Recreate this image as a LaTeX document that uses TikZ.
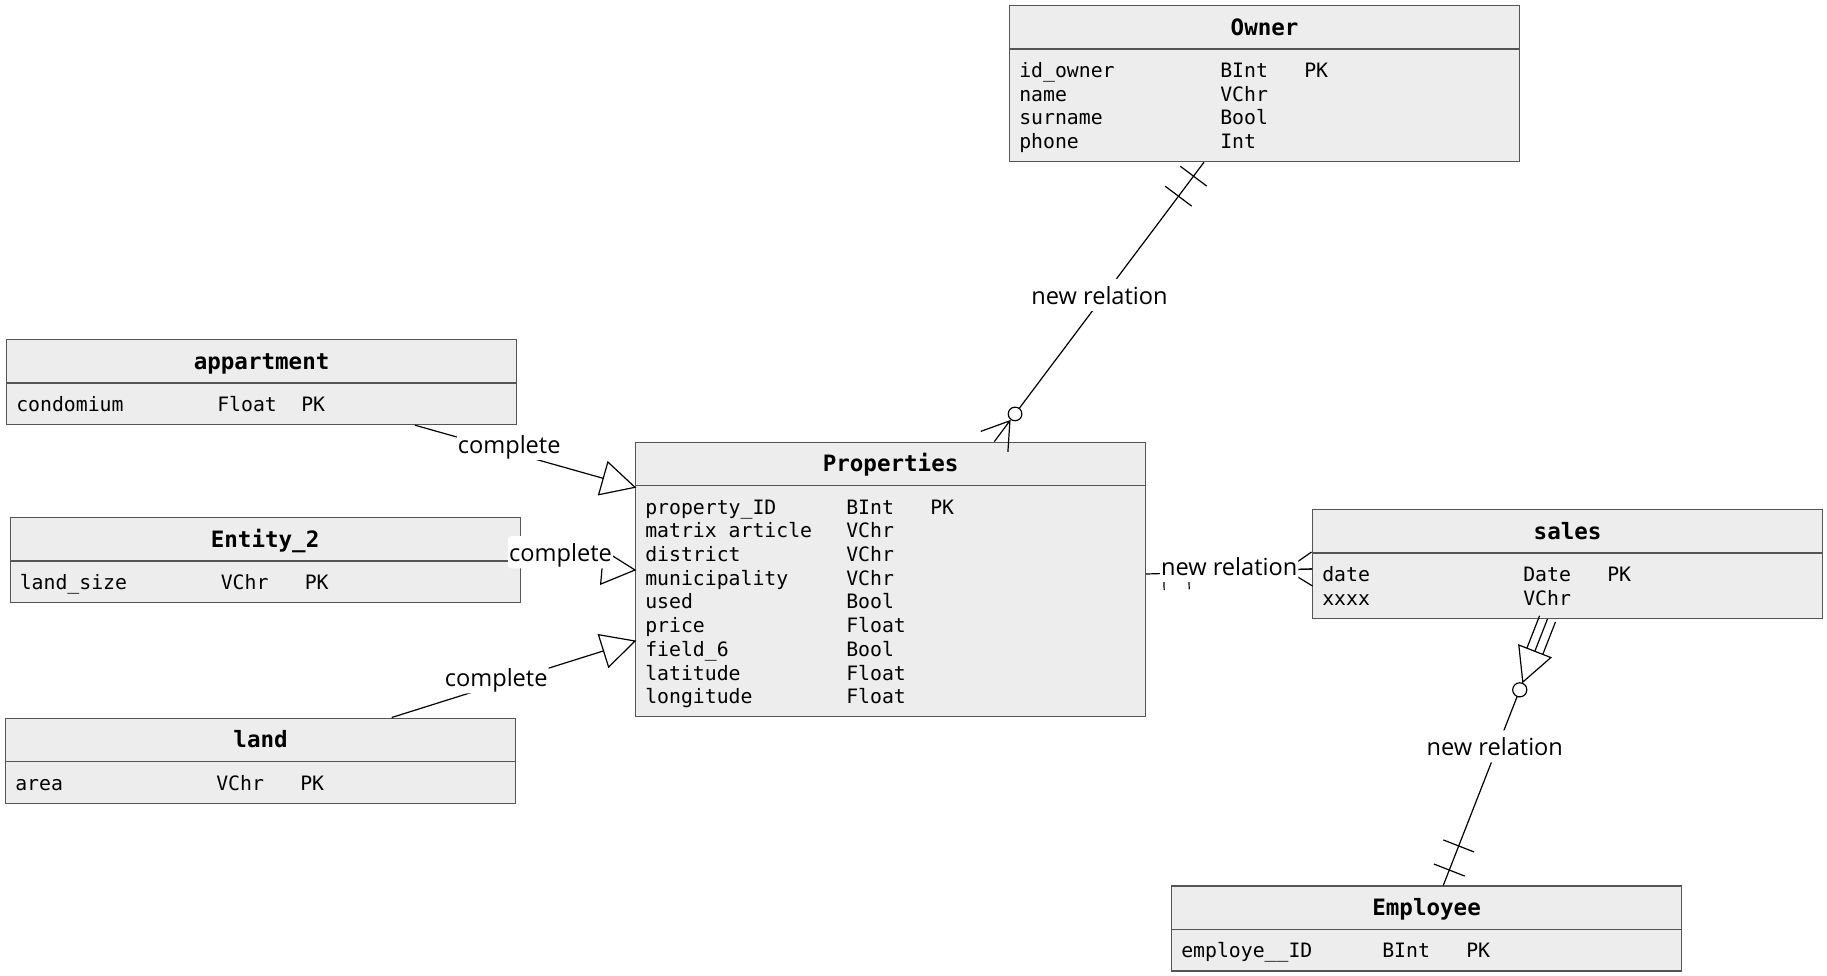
\documentclass[tikz,border=0pt]{standalone}
\usepackage{fontspec}
\setmainfont{Open Sans}
\setmonofont{DejaVu Sans Mono}
\usetikzlibrary{calc}

\definecolor{boxfill}{HTML}{EDEDED}
\definecolor{boxline}{HTML}{555555}

\tikzset{
  entity/.style={draw=boxline, fill=boxfill, line width=0.9pt, rectangle,
    anchor=north west, inner sep=0pt, minimum width=382.5pt},
  etitle/.style={font=\ttfamily\bfseries\fontsize{16.9pt}{20pt}\selectfont,
    anchor=base, inner sep=0pt},
  field/.style={font=\ttfamily\fontsize{14.85pt}{17.8pt}\selectfont,
    anchor=base west, inner sep=0pt},
  rel/.style={line width=0.9pt, black},
  lbl/.style={font=\fontsize{17.7pt}{21pt}\selectfont, fill=white,
    rounded corners=2pt, inner xsep=0.75pt, inner ysep=0pt,
    text height=18.9pt, text depth=5.2pt, anchor=base},
}

% entity box: name, x, y, height, title
\newcommand\entity[5]{%
  \node[entity, minimum height=#4] (#1) at (#2,#3) {};
  \draw[boxline, line width=0.9pt] ($(#1.north west)+(0,44)$) -- ($(#1.north east)+(0,44)$);
  \node[etitle] (#1-title) at ($(#1.north)+(0,30)$) {#5};
}
% attribute rows: name/type/key
\newcommand\fields[2]{%
  \foreach \fname/\ftype/\fkey [count=\frow from 0] in {#2} {
    \node[field] (#1-a\frow) at ($(#1.north west)+(10,{72.5+23.7*\frow})$) {\fname};
    \node[field] (#1-b\frow) at ($(#1.north west)+(211,{72.5+23.7*\frow})$) {\ftype};
    \node[field] (#1-c\frow) at ($(#1.north west)+(295,{72.5+23.7*\frow})$) {\fkey};
  }
}
% bar across a line: name, from, toward, distance
\newcommand\barmark[4]{%
  \coordinate (#1) at ($(#2)!#4!(#3)$);
  \draw[rel] ($(#1)!12.4pt!90:(#3)$) -- ($(#1)!12.4pt!-90:(#3)$);
}
% crow's foot: name, end at entity, other end
\newcommand\crowfoot[3]{%
  \coordinate (#1) at ($(#2)!19.5pt!(#3)$);
  \draw[rel] ($(#2)!12.75pt!90:(#3)$) -- (#1) -- ($(#2)!12.75pt!-90:(#3)$)
    (#1) -- (#2);
}
% generalisation: name, start, tip
\newcommand\isa[3]{%
  \coordinate (#1) at ($(#3)!24.75pt!(#2)$);
  \draw[rel] (#2) -- (#1);
  \draw[rel, line join=miter] ($(#1)!12.75pt!90:(#3)$) -- (#3)
    -- ($(#1)!12.75pt!-90:(#3)$) -- cycle;
}

\begin{document}
\begin{tikzpicture}[x=0.75pt, y=-0.75pt]
\fill[white] (0,0) rectangle (1827,975);
\useasboundingbox (0,0) rectangle (1827,975);

% entities
\entity{own}{1009}{5}{117pt}{Owner}
\fields{own}{id\_owner/BInt/PK, name/VChr/{}, surname/Bool/{}, phone/Int/{}}

\entity{prop}{635}{441.6}{205.95pt}{Properties}
\fields{prop}{property\_ID/BInt/PK, matrix article/VChr/{}, district/VChr/{},
  municipality/VChr/{}, used/Bool/{}, price/Float/{}, field\_6/Bool/{},
  latitude/Float/{}, longitude/Float/{}}

\entity{app}{6}{339}{63.75pt}{appartment}
\fields{app}{condomium/Float/PK}

\entity{ent2}{9.5}{517}{63.75pt}{Entity\_2}
\fields{ent2}{land\_size/VChr/PK}

\entity{land}{5}{717.5}{63.75pt}{land}
\fields{land}{area/VChr/PK}

\entity{sales}{1312}{509}{81.5pt}{sales}
\fields{sales}{date/Date/PK, xxxx/VChr/{}}

\entity{emp}{1171}{885.3}{63.75pt}{Employee}
\fields{emp}{employe\_\_ID/BInt/PK}

% Owner -- Properties
\coordinate (r1s) at ($(own.south west)+(195,0)$);
\coordinate (r1e) at ($(prop.north west)+(359.3,0)$);
\draw[rel] (r1s) -- ($(r1e)!31pt!(r1s)$);
\barmark{r1b1}{r1s}{r1e}{13.1pt}
\barmark{r1b2}{r1s}{r1e}{31.9pt}
\draw[rel, fill=white] ($(r1e)!25.95pt!(r1s)$) circle[radius=5.1pt];
\crowfoot{r1a}{r1e}{r1s}

% Properties -- sales
\coordinate (r2s) at ($(prop.north east)+(0,132.4)$);
\coordinate (r2e) at ($(sales.north west)+(0,60)$);
\draw[rel] (r2s) -- (r2e);
\barmark{r2b1}{r2s}{r2e}{13.1pt}
\barmark{r2b2}{r2s}{r2e}{31.9pt}
\crowfoot{r2a}{r2e}{r2s}

% sales -- Employee
\coordinate (r3s) at ($(sales.south west)+(235.5,0)$);
\coordinate (r3e) at ($(emp.north west)+(272.3,0)$);
\coordinate (r3m) at ($(r3s)!26.1pt!(r3e)$);
\draw[rel] ($(r3s)!6.4pt!90:(r3e)$) -- ($(r3m)!6.4pt!90:(r3e)$)
  (r3s) -- (r3m)
  ($(r3s)!6.4pt!-90:(r3e)$) -- ($(r3m)!6.4pt!-90:(r3e)$);
\draw[rel, line join=miter] ($(r3m)!12.9pt!90:(r3e)$) -- ($(r3s)!50.9pt!(r3e)$)
  -- ($(r3m)!12.9pt!-90:(r3e)$) -- cycle;
\draw[rel, fill=white] ($(r3s)!57.15pt!(r3e)$) circle[radius=5.3pt];
\draw[rel] ($(r3s)!62.45pt!(r3e)$) -- (r3e);
\barmark{r3b1}{r3e}{r3s}{12.3pt}
\barmark{r3b2}{r3e}{r3s}{31.7pt}

% subtypes of Properties
\isa{g1}{$(app.south west)+(409,0)$}{$(prop.north west)+(0,45.7)$}
\isa{g2}{ent2.east}{$(prop.north west)+(0,128.4)$}
\isa{g3}{$(land.north west)+(386.7,0)$}{$(prop.north west)+(0,199.4)$}

% labels
\node[lbl] (l1) at (1099.5,304) {new relation};
\node[lbl] (l2) at (1229.2,575) {new relation};
\node[lbl] (l3) at (1494.8,755.5) {new relation};
\node[lbl] (c1) at (509.2,453) {complete};
\node[lbl] (c2) at (560.5,561.4) {complete};
\node[lbl] (c3) at (496.2,686.5) {complete};
\end{tikzpicture}
\end{document}
